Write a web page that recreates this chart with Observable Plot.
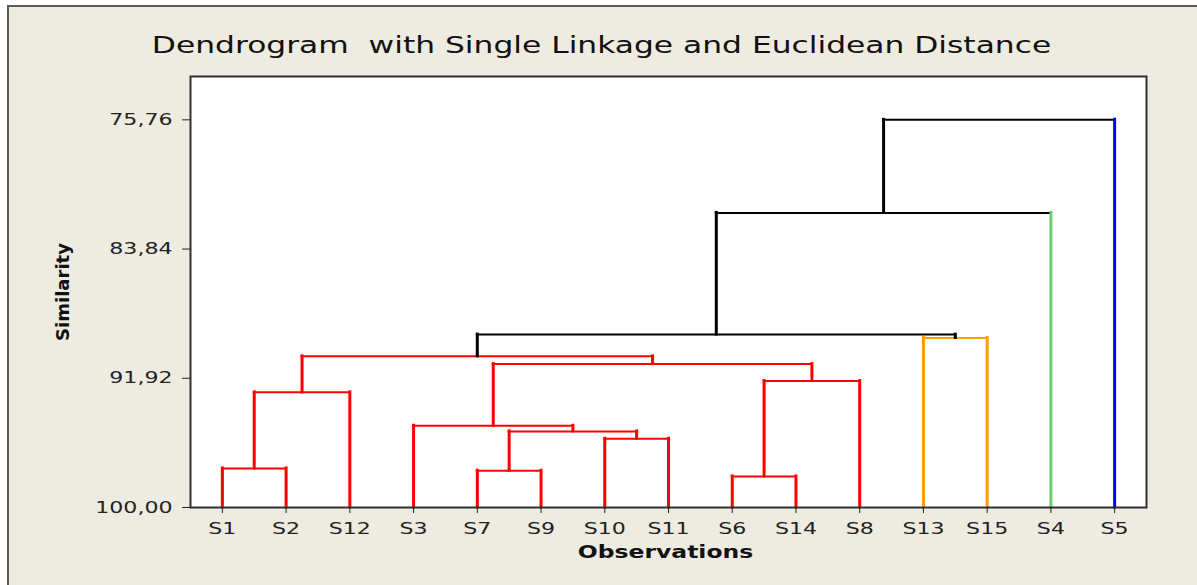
<!DOCTYPE html>
<html>
<head>
<meta charset="utf-8">
<script src="https://cdn.jsdelivr.net/npm/d3@7"></script>
<script src="https://cdn.jsdelivr.net/npm/@observablehq/plot@0.6"></script>
<style>
  body { margin: 0; background: #ffffff; }
  #page { position: relative; width: 1197px; height: 585px; overflow: hidden; background: #ffffff; }
  #panel { position: absolute; left: 7px; top: 5px; right: 0; bottom: 0;
           background: #eeebe1; border-top: 2px solid #5a5a5a; border-left: 2px solid #5a5a5a; }
  #chart { position: absolute; left: 0; top: 0; }
</style>
</head>
<body>
<div id="page">
  <div id="panel"></div>
  <div id="chart"></div>
</div>
<script>
// Observations in dendrogram order
const leaves = ["S1", "S2", "S12", "S3", "S7", "S9", "S10", "S11", "S6", "S14", "S8", "S13", "S15", "S4", "S5"];
// Final cluster of each observation (0 = unclustered links, 1 red, 2 orange, 3 green, 4 blue)
const leafGroup = [1, 1, 1, 1, 1, 1, 1, 1, 1, 1, 1, 2, 2, 3, 4];

// Amalgamation steps: step k joins mergeA[k] and mergeB[k]; "Lk" is the cluster made at step k
const mergeA = ["S6", "S7", "S1", "S10", "L2", "S3", "L3", "L1", "L6", "L7", "S13", "L10", "L12", "L13"];
const mergeB = ["S14", "S9", "S2", "S11", "L4", "L5", "S12", "S8", "L8", "L9", "S15", "L11", "S4", "S5"];
const mergeSimilarity = [98.06, 97.70, 97.56, 95.70, 95.24, 94.89, 92.80, 92.09, 91.03, 90.55, 89.40, 89.19, 81.58, 75.76];
const mergeGroup = [1, 1, 1, 1, 1, 1, 1, 1, 1, 1, 2, 0, 0, 0];

// Similarity axis
const yTicks = [75.76, 83.84, 91.92, 100.00];

const titleText = "Dendrogram  with Single Linkage and Euclidean Distance";
const xLabel = "Observations";
const yLabel = "Similarity";

const groupColors = ["#000000", "#ff0000", "#ffa000", "#6dcc6d", "#0000ff"];

// Build the link segments from the amalgamation steps
const nodes = new Map();
leaves.forEach((name, i) => nodes.set(name, {x: i, h: 100, leaf: true, group: leafGroup[i]}));
const horizontals = [];
const verticals = [];
mergeA.forEach((a, k) => {
  const A = nodes.get(a), B = nodes.get(mergeB[k]);
  const s = mergeSimilarity[k], g = mergeGroup[k];
  horizontals.push({x1: A.x, x2: B.x, y: s, group: g});
  for (const C of [A, B]) verticals.push({x: C.x, y1: s, y2: C.h, group: C.leaf ? C.group : g});
  nodes.set("L" + (k + 1), {x: (A.x + B.x) / 2, h: s, leaf: false, group: g});
});

const fmt = d => d.toFixed(2).replace(".", ",");

const chart = Plot.plot({
  width: 1197,
  height: 585,
  marginLeft: 190,
  marginRight: 51,
  marginTop: 76,
  marginBottom: 78,
  style: {background: "transparent", fontFamily: "DejaVu Sans", fontSize: "16px", color: "#222", overflow: "visible"},
  x: {type: "linear", domain: [-0.5, leaves.length - 0.5]},
  y: {domain: [100, 73.05]},
  marks: [
    Plot.frame({fill: "white"}),
    Plot.ruleY(horizontals, {y: "y", x1: "x1", x2: "x2", stroke: d => groupColors[d.group], strokeWidth: 2, strokeLinecap: "square"}),
    Plot.ruleX(verticals, {x: "x", y1: "y1", y2: "y2", stroke: d => groupColors[d.group], strokeWidth: 3, strokeLinecap: "square"}),
    Plot.frame({stroke: "#303030", strokeWidth: 2}),
    Plot.axisY({ticks: yTicks, tickFormat: fmt, tickSize: 8, tickPadding: 10, label: null, fontSize: 16}),
    Plot.axisX({ticks: d3.range(leaves.length), tickFormat: i => leaves[i], tickSize: 6, tickPadding: 9, label: null, fontSize: 16}),
    Plot.text([titleText], {frameAnchor: "top", lineAnchor: "middle", dx: -67, dy: -31, fontSize: 22.7, fill: "#111"}),
    Plot.text([xLabel], {frameAnchor: "bottom", lineAnchor: "middle", dx: -3, dy: 45, fontSize: 17, fontWeight: "bold", fill: "#111"}),
    Plot.text([yLabel], {frameAnchor: "left", textAnchor: "middle", lineAnchor: "middle", dx: -127, rotate: -90, fontSize: 18, fontWeight: "bold", fill: "#111"})
  ]
});

document.getElementById("chart").appendChild(chart);

// The lettering of this chart is drawn wide: stretch each horizontal label
const stretch = 1.38;
d3.select(chart).selectAll("text").each(function() {
  const t = this.getAttribute("transform") || "";
  if (t.includes("rotate")) return;
  const len = this.getComputedTextLength();
  this.setAttribute("textLength", len * stretch);
  this.setAttribute("lengthAdjust", "spacingAndGlyphs");
});
</script>
</body>
</html>
